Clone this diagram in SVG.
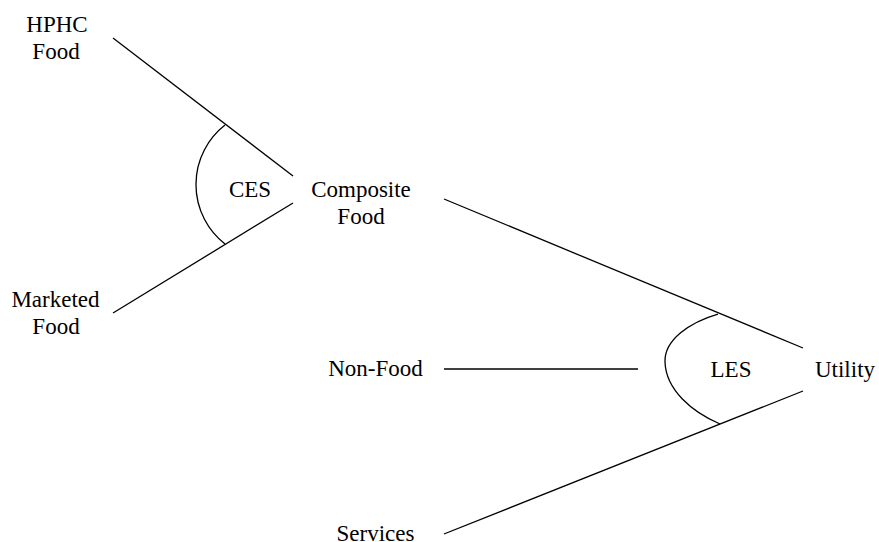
<svg xmlns="http://www.w3.org/2000/svg" width="879" height="542" viewBox="0 0 879 542">
<style>
text{font-family:"Liberation Serif","Times New Roman",serif;font-size:23px;fill:#000;text-anchor:middle}
.ln{stroke:#000;stroke-width:1.3;fill:none}
</style>
<rect width="879" height="542" fill="#fff"/>
<g id="connectors">
<line class="ln" x1="113" y1="38" x2="293" y2="176"/>
<line class="ln" x1="113" y1="313" x2="293" y2="203"/>
<line class="ln" x1="444" y1="199" x2="803" y2="348"/>
<line class="ln" x1="444" y1="369" x2="638" y2="369"/>
<line class="ln" x1="444" y1="534" x2="803" y2="391"/>
<path id="ces-arc" class="ln" d="M225,125 A75.5,75.5 0 0 0 225,244"/>
<path id="les-arc" class="ln" d="M718,314 C690,322 664,340 665,362 C666,390 692,412 720,424"/>
</g>
<g id="hphc"><text x="57" y="32">HPHC</text><text x="56" y="59">Food</text></g>
<g id="marketed"><text x="55.5" y="307">Marketed</text><text x="56" y="334">Food</text></g>
<g id="ces"><text x="250" y="197">CES</text></g>
<g id="composite"><text x="361" y="197">Composite</text><text x="361" y="224">Food</text></g>
<g id="nonfood"><text x="375.5" y="376">Non-Food</text></g>
<g id="les"><text x="731" y="377">LES</text></g>
<g id="utility"><text x="845" y="377">Utility</text></g>
<g id="services"><text x="375.5" y="541">Services</text></g>
</svg>
